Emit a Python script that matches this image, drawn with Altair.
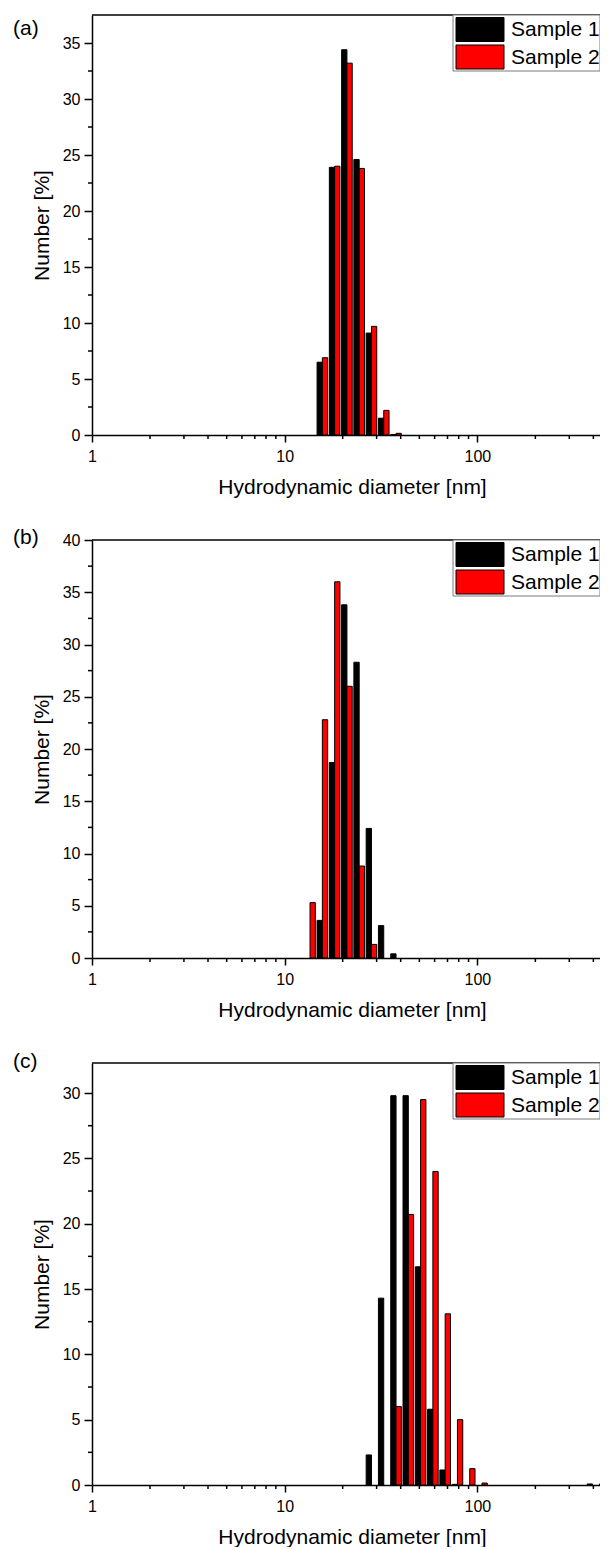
import altair as alt
import pandas as pd

FONT = "Liberation Sans"

# ---- data (bin centres in nm, number %) ----
a_size = [15.69, 18.17, 21.04, 24.36, 28.21, 32.67, 37.84]
a_s1 = [6.5, 23.9, 34.4, 24.6, 9.1, 1.5, 0.05]
a_s2 = [6.9, 24.0, 33.2, 23.8, 9.7, 2.2, 0.15]

b_size = [13.54, 15.69, 18.17, 21.04, 24.36, 28.21, 32.67, 37.84]
b_s1 = [0.0, 3.6, 18.7, 33.8, 28.3, 12.4, 3.1, 0.4]
b_s2 = [5.3, 22.8, 36.0, 26.0, 8.8, 1.3, 0.0, 0.0]

c_size = [28.21, 32.67, 37.84, 43.82, 50.75, 58.77, 68.06, 78.82, 91.28, 105.7, 396.1, 458.7]
c_s1 = [2.3, 14.3, 29.8, 29.8, 16.7, 5.8, 1.15, 0.05, 0.0, 0.0, 0.08, 0.08]
c_s2 = [0.0, 0.0, 6.0, 20.7, 29.5, 24.0, 13.1, 5.0, 1.25, 0.15, 0.0, 0.0]

samples = ["Sample 1", "Sample 2"]
colors = ["#000000", "#ff0000"]

x_major = [1, 10, 100]
x_minor = [2, 3, 4, 5, 6, 7, 8, 9, 20, 30, 40, 50, 60, 70, 80, 90, 200, 300, 400]
x_domain = [1, 433]
x_title = "Hydrodynamic diameter [nm]"
y_title = "Number [%]"

a_ymajor = [0, 5, 10, 15, 20, 25, 30, 35]
a_yminor = [2.5, 7.5, 12.5, 17.5, 22.5, 27.5, 32.5]
b_ymajor = [0, 5, 10, 15, 20, 25, 30, 35, 40]
b_yminor = [2.5, 7.5, 12.5, 17.5, 22.5, 27.5, 32.5, 37.5]
c_ymajor = [0, 5, 10, 15, 20, 25, 30]
c_yminor = [2.5, 7.5, 12.5, 17.5, 22.5, 27.5]

W = 508
HALF = 0.0275  # bar width in decades
LX = 361  # legend box left

one = pd.DataFrame({"k": [0]})


def panel(label, size, s1, s2, ymax, H, ymajor, yminor, label_y):
    rows = []
    for s, v1, v2 in zip(size, s1, s2):
        rows.append({"size": s, "sample": samples[0], "value": v1})
        rows.append({"size": s, "sample": samples[1], "value": v2})
    df = pd.DataFrame(rows)

    xscale = alt.Scale(type="log", domain=x_domain, nice=False)
    yscale = alt.Scale(domain=[0, ymax], nice=False, zero=True)
    xaxis = alt.Axis(
        values=x_major, format="d", tickSize=7, labelPadding=6,
        labelFlush=False, title=x_title, titlePadding=12, titleX=260,
    )
    yaxis = alt.Axis(values=ymajor, tickSize=8, labelPadding=4, title=y_title, titlePadding=10)

    bars = (
        alt.Chart(df)
        .transform_filter("datum.value > 0")
        .transform_calculate(
            lo=f"datum.sample == 'Sample 1' ? datum.size * pow(10, -{HALF}) : datum.size",
            hi=f"datum.sample == 'Sample 1' ? datum.size : datum.size * pow(10, {HALF})",
        )
        .mark_rect(stroke="black", strokeWidth=1, clip=True)
        .encode(
            x=alt.X("lo:Q", scale=xscale, axis=xaxis),
            x2="hi:Q",
            y=alt.Y("value:Q", scale=yscale, axis=yaxis),
            y2=alt.datum(0),
            color=alt.Color(
                "sample:N", scale=alt.Scale(domain=samples, range=colors), legend=None
            ),
        )
    )

    xmin = (
        alt.Chart(pd.DataFrame({"lo": x_minor}))
        .mark_rule(color="black", strokeWidth=1.5)
        .encode(x=alt.X("lo:Q", scale=xscale, axis=xaxis), y=alt.value(H), y2=alt.value(H + 4))
    )
    ymin = (
        alt.Chart(pd.DataFrame({"value": yminor}))
        .mark_rule(color="black", strokeWidth=1.5)
        .encode(y=alt.Y("value:Q", scale=yscale, axis=yaxis), x=alt.value(0), x2=alt.value(-4))
    )
    top = (
        alt.Chart(one)
        .mark_rule(color="black", strokeWidth=1.5)
        .encode(x=alt.value(0), x2=alt.value(W), y=alt.value(0))
    )
    box = (
        alt.Chart(one)
        .mark_rect(fill="white", stroke="#7a7a7a", strokeWidth=1)
        .encode(x=alt.value(LX), x2=alt.value(W), y=alt.value(0), y2=alt.value(56))
    )
    sw1 = (
        alt.Chart(one)
        .mark_rect(fill=colors[0], stroke="black", strokeWidth=1)
        .encode(x=alt.value(LX + 3), x2=alt.value(LX + 51), y=alt.value(2.5), y2=alt.value(26.5))
    )
    sw2 = (
        alt.Chart(one)
        .mark_rect(fill=colors[1], stroke="black", strokeWidth=1)
        .encode(x=alt.value(LX + 3), x2=alt.value(LX + 51), y=alt.value(30), y2=alt.value(54))
    )
    t1 = (
        alt.Chart(one)
        .mark_text(font=FONT, fontSize=21, align="left", baseline="middle", color="black")
        .encode(x=alt.value(LX + 58), y=alt.value(15), text=alt.value(samples[0]))
    )
    t2 = (
        alt.Chart(one)
        .mark_text(font=FONT, fontSize=21, align="left", baseline="middle", color="black")
        .encode(x=alt.value(LX + 58), y=alt.value(42.5), text=alt.value(samples[1]))
    )
    lab = (
        alt.Chart(one)
        .mark_text(font=FONT, fontSize=21, align="left", baseline="middle", color="black")
        .encode(x=alt.value(-79), y=alt.value(label_y), text=alt.value(label))
    )
    return alt.layer(bars, xmin, ymin, top, box, sw1, sw2, t1, t2, lab).properties(
        width=W, height=H
    )


pa = panel("(a)", a_size, a_s1, a_s2, 37.5, 420, a_ymajor, a_yminor, 14)
pb = panel("(b)", b_size, b_s1, b_s2, 40, 418, b_ymajor, b_yminor, -2.5)
pc = panel("(c)", c_size, c_s1, c_s2, 32.3, 422, c_ymajor, c_yminor, -1)

chart = (
    alt.vconcat(pa, pb, pc, spacing=105, bounds="flush")
    .properties(padding={"left": 5, "top": 6, "right": -1, "bottom": 0})
    .configure_view(stroke=None)
    .configure_axis(
        labelFont=FONT, titleFont=FONT, labelColor="black", titleColor="black",
        domainColor="black", tickColor="black", grid=False, titleFontWeight="normal",
        domainWidth=1.5, tickWidth=1.5, labelFontSize=16, titleFontSize=21,
    )
)

chart.save("out.html", embed_options={"renderer": "svg", "actions": False})
